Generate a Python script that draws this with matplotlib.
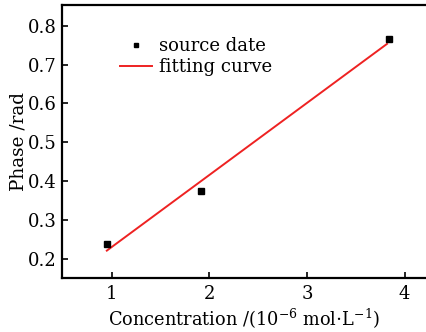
import matplotlib.pyplot as plt

# data
conc = [0.95, 1.915, 3.836]
phase = [0.238, 0.375, 0.766]

# fitted straight line (end points)
fit_x = [0.95, 3.82]
fit_y = [0.222, 0.753]

plt.rcParams['font.family'] = 'DejaVu Serif'
plt.rcParams['mathtext.fontset'] = 'dejavuserif'

fig = plt.figure(figsize=(4.27, 3.32), dpi=100)
ax = fig.add_axes([0.145, 0.163, 0.855, 0.822])

ax.plot(conc, phase, 's', color='black', markersize=3.8, label='source date', zorder=3)
ax.plot(fit_x, fit_y, '-', color='#ee2222', linewidth=1.4, label='fitting curve')

ax.set_xlim(0.49, 4.23)
ax.set_ylim(0.152, 0.853)
ax.set_xticks([1, 2, 3, 4])
ax.set_yticks([0.2, 0.3, 0.4, 0.5, 0.6, 0.7, 0.8])
ax.tick_params(direction='in', length=4, width=1.2, labelsize=13)
ax.tick_params(axis='x', pad=5)
ax.tick_params(axis='y', pad=4)

for side in ['left', 'bottom', 'top']:
    ax.spines[side].set_linewidth(1.6)
ax.spines['right'].set_visible(False)

ax.set_xlabel(r'Concentration /(10$^{-6}$ mol$\cdot$L$^{-1}$)', fontsize=12.8, labelpad=3)
ax.set_ylabel('Phase /rad', fontsize=13.2, labelpad=0)

ax.legend(loc='upper left', bbox_to_anchor=(0.159, 0.882), frameon=False,
          fontsize=13, borderpad=0, borderaxespad=0, handlelength=1.75,
          handletextpad=0.4, labelspacing=0.15, markerscale=0.75)

plt.savefig('out.png', dpi=100)
